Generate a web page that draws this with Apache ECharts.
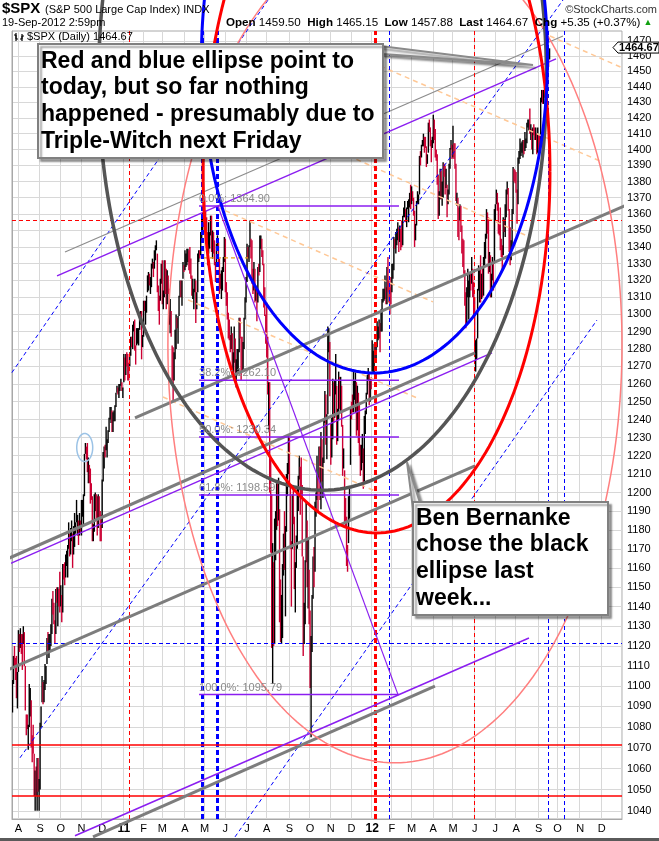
<!DOCTYPE html>
<html>
<head>
<meta charset="utf-8">
<title>$SPX daily</title>
<script src="https://cdn.jsdelivr.net/npm/echarts@6/dist/echarts.min.js"></script>
<style>
  html, body { margin: 0; padding: 0; background: #fff; }
  #chart { width: 659px; height: 841px; }
</style>
</head>
<body>
<div id="chart"></div>
<script>
// market holidays inside the bar range (future days are plain weekdays)
const holidays = ['2010-09-06', '2010-11-25', '2010-12-24', '2011-01-17', '2011-02-21', '2011-04-22',
  '2011-05-30', '2011-07-04', '2011-09-05', '2011-11-24', '2011-12-26', '2012-01-02', '2012-01-16',
  '2012-02-20', '2012-04-06', '2012-05-28', '2012-07-04', '2012-09-03'];

// daily bars from 23 Jul 2010 to 19 Sep 2012, one row per month
const highs = [
  1103,1115,1120,1114,1115,1107,
  1128,1126,1129,1126,1126,1130,1127,1110,1086,1086,1081,1101,1099,1093,1076,1081,1067,1059,1061,1065,1065,1055,
  1082,1090,1105,1102,1103,1111,1110,1124,1127,1126,1126,1131,1144,1148,1142,1133,1149,1150,1150,1149,1158,
  1151,1146,1162,1162,1163,1167,1169,1172,1184,1178,1181,1185,1178,1182,1189,1184,1196,1188,1185,1189,1185,
  1196,1196,1199,1221,1227,1225,1227,1219,1215,1213,1205,1198,1183,1199,1200,1199,1198,1199,1198,1190,1188,
  1207,1222,1225,1226,1236,1229,1234,1241,1247,1247,1245,1244,1245,1248,1255,1259,1258,1260,1260,1263,1261,1258,
  1277,1275,1277,1278,1277,1272,1278,1287,1287,1294,1296,1297,1282,1292,1292,1292,1299,1302,1302,1288,
  1308,1308,1308,1311,1323,1325,1324,1322,1330,1333,1331,1338,1341,1344,1336,1317,1311,1321,1330,
  1332,1314,1332,1332,1327,1326,1323,1315,1309,1302,1282,1281,1278,1291,1300,1298,1299,1311,1320,1320,1320,1331,1329,
  1338,1336,1339,1339,1338,1340,1333,1323,1321,1315,1321,1320,1313,1336,1338,1338,1349,1357,1361,1364,
  1371,1362,1358,1349,1355,1349,1359,1359,1350,1349,1344,1331,1342,1347,1343,1333,1324,1326,1328,1334,1346,
  1345,1319,1313,1301,1297,1288,1293,1289,1278,1293,1286,1274,1280,1280,1298,1298,1287,1287,1284,1298,1310,1322,
  1342,1340,1341,1356,1345,1344,1327,1331,1327,1317,1316,1328,1330,1347,1347,1345,1338,1330,1316,1300,
  1307,1287,1261,1261,1218,1199,1173,1163,1186,1190,1205,1205,1208,1191,1154,1146,1162,1178,1190,1182,1210,1216,1231,
  1230,1204,1174,1199,1204,1187,1163,1177,1203,1209,1220,1214,1219,1204,1166,1142,1164,1195,1185,1175,1159,
  1138,1125,1146,1166,1171,1195,1200,1220,1209,1225,1225,1233,1229,1219,1240,1256,1254,1243,1293,1292,1284,
  1238,1241,1263,1261,1262,1277,1259,1246,1267,1264,1264,1259,1237,1224,1212,1197,1187,1172,1198,1203,1247,
  1250,1254,1268,1262,1267,1261,1259,1255,1249,1226,1226,1232,1224,1242,1245,1255,1265,1269,1266,1263,1264,
  1285,1279,1283,1282,1282,1296,1293,1297,1295,1303,1309,1315,1315,1323,1316,1328,1334,1320,1316,1322,
  1330,1330,1346,1345,1349,1351,1355,1352,1353,1351,1356,1359,1364,1368,1363,1364,1368,1369,1373,1378,
  1377,1374,1370,1362,1354,1368,1374,1372,1396,1399,1403,1406,1410,1408,1408,1402,1397,1417,1419,1414,1406,1408,
  1422,1419,1413,1400,1397,1384,1374,1388,1387,1380,1392,1391,1390,1388,1378,1375,1391,1401,1406,1403,
  1415,1404,1404,1391,1373,1370,1364,1366,1365,1353,1345,1344,1326,1313,1316,1327,1320,1325,1324,1334,1327,1319,
  1310,1285,1286,1315,1329,1326,1335,1324,1327,1334,1343,1348,1363,1361,1358,1337,1335,1324,1334,1331,1363,
  1366,1375,1373,1367,1355,1364,1345,1341,1358,1357,1366,1375,1380,1376,1363,1352,1344,1363,1389,1388,1387,
  1386,1375,1395,1399,1407,1404,1405,1406,1406,1411,1407,1417,1419,1419,1426,1416,1413,1414,1416,1414,1414,1410,1414,
  1409,1409,1433,1438,1438,1438,1440,1463,1475,1466,1462,1465.15
];
const lows = [
  1087,1101,1109,1103,1094,1089,
  1107,1117,1119,1116,1108,1121,1110,1088,1076,1079,1069,1080,1085,1070,1063,1067,1047,1040,1047,1040,1049,1040,
  1050,1080,1092,1091,1092,1098,1101,1111,1116,1114,1118,1120,1126,1136,1131,1121,1126,1142,1130,1140,1137,
  1140,1132,1137,1154,1151,1155,1161,1155,1170,1166,1167,1174,1160,1167,1171,1178,1184,1177,1172,1177,1179,
  1177,1187,1183,1198,1221,1218,1211,1205,1205,1194,1196,1174,1174,1179,1190,1185,1177,1181,1186,1174,1174,
  1181,1206,1213,1219,1223,1219,1227,1233,1240,1238,1233,1233,1239,1239,1247,1255,1254,1252,1256,1259,1256,1252,
  1261,1262,1265,1270,1262,1262,1270,1276,1281,1280,1290,1279,1271,1282,1283,1282,1291,1294,1274,1281,
  1287,1302,1294,1301,1313,1314,1317,1312,1316,1327,1322,1327,1332,1338,1313,1302,1294,1308,1318,
  1306,1303,1310,1312,1303,1306,1312,1294,1289,1287,1262,1250,1262,1274,1280,1292,1283,1299,1310,1310,1305,1321,1325,
  1326,1328,1329,1331,1326,1324,1321,1311,1309,1303,1313,1295,1303,1313,1331,1333,1335,1344,1350,1358,
  1359,1350,1340,1329,1336,1339,1347,1337,1333,1336,1329,1319,1328,1338,1330,1312,1315,1309,1314,1325,1331,
  1313,1305,1297,1286,1285,1278,1280,1268,1266,1272,1262,1258,1267,1267,1278,1286,1262,1267,1267,1280,1297,1307,
  1319,1333,1331,1340,1333,1318,1312,1314,1307,1308,1296,1307,1323,1325,1339,1334,1329,1304,1299,1283,
  1275,1254,1234,1200,1168,1119,1101,1120,1121,1164,1180,1182,1185,1132,1122,1121,1124,1156,1159,1135,1179,1198,1210,
  1203,1170,1140,1170,1183,1149,1137,1160,1170,1190,1207,1188,1197,1166,1115,1121,1131,1163,1150,1139,1131,
  1099,1075,1117,1144,1150,1158,1187,1196,1190,1207,1196,1191,1206,1197,1216,1238,1226,1218,1243,1278,1253,
  1215,1219,1229,1238,1241,1254,1226,1228,1240,1246,1244,1236,1209,1213,1183,1182,1161,1158,1173,1186,1215,
  1240,1244,1244,1251,1244,1231,1234,1227,1220,1209,1212,1216,1202,1206,1232,1243,1254,1262,1248,1250,1257,
  1267,1266,1266,1273,1274,1281,1285,1286,1278,1290,1290,1307,1308,1309,1306,1306,1313,1307,1300,1306,
  1313,1321,1326,1339,1336,1341,1344,1337,1343,1338,1340,1341,1358,1358,1355,1352,1363,1355,1364,1363,
  1366,1368,1359,1340,1344,1353,1366,1366,1372,1390,1395,1402,1402,1398,1401,1389,1391,1398,1411,1402,1392,1401,
  1404,1406,1395,1393,1378,1357,1359,1369,1369,1365,1370,1383,1372,1376,1358,1366,1372,1388,1400,1394,
  1395,1394,1388,1368,1365,1346,1344,1356,1349,1336,1328,1324,1305,1292,1295,1310,1297,1310,1314,1318,1310,1299,
  1277,1267,1274,1286,1314,1307,1307,1309,1310,1311,1329,1333,1345,1348,1324,1325,1310,1310,1320,1314,1330,
  1356,1366,1362,1348,1347,1338,1334,1325,1335,1349,1346,1358,1372,1362,1337,1329,1332,1339,1360,1380,1379,
  1373,1354,1366,1391,1394,1396,1398,1395,1397,1399,1401,1404,1414,1412,1410,1406,1400,1397,1409,1406,1406,1397,1398,
  1397,1398,1404,1430,1429,1429,1433,1435,1460,1457,1453,1457.88
];
const closes = [
  1103,1115,1114,1106,1102,1102,
  1126,1120,1127,1126,1122,1128,1121,1090,1084,1079,1079,1093,1094,1076,1072,1067,1052,1055,1047,1065,1049,1049,
  1080,1090,1105,1092,1099,1104,1110,1122,1121,1125,1125,1126,1143,1140,1134,1125,1149,1142,1148,1145,1141,
  1146,1137,1161,1160,1158,1165,1165,1170,1178,1174,1176,1185,1166,1178,1180,1183,1186,1186,1182,1184,1183,
  1184,1194,1198,1221,1226,1223,1213,1219,1214,1199,1198,1178,1179,1197,1200,1198,1181,1198,1189,1188,1181,
  1206,1222,1225,1223,1224,1228,1233,1240,1241,1242,1235,1243,1244,1247,1255,1259,1257,1258,1258,1260,1258,1258,
  1272,1270,1277,1274,1272,1270,1275,1286,1284,1293,1295,1282,1280,1283,1291,1291,1297,1300,1276,1286,
  1308,1304,1307,1311,1319,1325,1321,1322,1329,1332,1328,1336,1340,1343,1315,1307,1306,1320,1327,
  1306,1308,1331,1321,1310,1322,1320,1295,1304,1296,1282,1257,1274,1279,1298,1294,1298,1310,1314,1310,1319,1328,1326,
  1332,1333,1333,1336,1334,1328,1325,1314,1314,1315,1320,1305,1313,1330,1337,1335,1347,1356,1360,1364,
  1361,1357,1347,1335,1340,1346,1357,1342,1349,1338,1330,1329,1341,1344,1333,1317,1316,1321,1326,1331,1345,
  1315,1313,1300,1286,1285,1280,1289,1271,1272,1288,1265,1268,1272,1278,1296,1287,1284,1269,1280,1297,1307,1321,
  1340,1338,1339,1353,1344,1320,1314,1318,1309,1316,1305,1327,1326,1344,1345,1337,1332,1305,1301,1292,
  1287,1254,1260,1200,1199,1120,1173,1121,1173,1179,1205,1193,1194,1141,1124,1124,1162,1178,1159,1177,1210,1213,1219,
  1204,1174,1165,1199,1186,1154,1162,1173,1189,1209,1216,1204,1202,1167,1130,1136,1163,1175,1151,1160,1131,
  1099,1124,1144,1165,1155,1195,1196,1207,1204,1225,1201,1225,1210,1215,1238,1254,1229,1242,1285,1285,1253,
  1218,1238,1261,1253,1261,1276,1229,1240,1264,1252,1258,1237,1216,1216,1193,1188,1162,1159,1193,1195,1247,
  1245,1244,1257,1259,1261,1234,1255,1237,1226,1212,1216,1220,1205,1241,1244,1254,1265,1265,1250,1263,1258,
  1277,1277,1281,1278,1281,1292,1293,1296,1289,1294,1308,1315,1315,1316,1315,1326,1318,1316,1313,1312,
  1324,1326,1345,1344,1347,1350,1352,1343,1352,1351,1343,1358,1361,1362,1358,1363,1366,1368,1372,1366,
  1374,1370,1364,1343,1353,1366,1371,1371,1396,1394,1403,1404,1410,1406,1403,1393,1397,1417,1413,1406,1403,1408,
  1419,1413,1399,1398,1382,1359,1369,1388,1370,1370,1391,1385,1377,1379,1367,1372,1391,1400,1403,1398,
  1406,1402,1392,1369,1370,1364,1355,1358,1353,1338,1331,1325,1305,1295,1316,1317,1319,1321,1318,1332,1313,1310,
  1278,1278,1285,1315,1315,1326,1309,1324,1315,1329,1343,1345,1358,1356,1326,1335,1314,1320,1332,1329,1362,
  1366,1374,1368,1355,1353,1342,1341,1335,1357,1354,1364,1373,1377,1363,1351,1338,1338,1360,1386,1385,1379,
  1375,1365,1391,1394,1401,1402,1403,1406,1404,1404,1406,1416,1418,1418,1413,1414,1402,1411,1410,1409,1411,1400,1407,
  1405,1403,1432,1438,1429,1434,1437,1460,1466,1461,1459,1464.67
];

const priceTicks = [1040,1050,1060,1070,1080,1090,1100,1110,1120,1130,1140,1150,1160,1170,1180,1190,1200,
  1210,1220,1230,1240,1250,1260,1270,1280,1290,1300,1310,1320,1330,1340,1350,1360,1370,1380,1390,1400,
  1410,1420,1430,1440,1450,1460,1470];
const monthLetters = ['J','F','M','A','M','J','J','A','S','O','N','D'];

// drawn annotations; points are [slot, price], slot = trading day counted from 23 Jul 2010
const grayChannel = [
  [[124.3, 1240.9], [632.7, 1368.0]],
  [[-12.7, 1163.0], [469.3, 1277.7]],
  [[-12.7, 1106.4], [469.3, 1214.4]],
  [[81.7, 1027.9], [428.7, 1100.0]]
];
const purpleChannel = [
  [[45.2, 1322.7], [551.5, 1458.2]],
  [[-12.7, 1159.9], [486.6, 1277.7]],
  [[63.4, 1028.4], [524.1, 1124.0]]
];
const thinGray = [[[53.3, 1337.0], [558.6, 1473.3]]];
const orangeDashed = [
  [[207.5, 1364.3], [426.7, 1307.3]],
  [[332.3, 1398.5], [522.1, 1346.7]],
  [[372.9, 1453.6], [596.2, 1392.8]],
  [[545.4, 1473.3], [656.0, 1441.9]],
  [[178.1, 1308.5], [410.5, 1252.1]],
  [[152.7, 1252.6], [369.9, 1200.3]]
];
const goldDashed = [[[193.3, 1333.4], [239.0, 1333.4]]];
const blueDashed = [
  [[-12.7, 1256.6], [259.3, 1497.3]],
  [[7.6, 1065.1], [558.6, 1497.3]],
  [[225.8, 1027.9], [593.1, 1296.7]]
];

// Fibonacci retracement
const fibLevels = [1364.90, 1262.10, 1230.34, 1198.59, 1095.79];
const fibNames = ['0.0%', '38.2%', '50.0%', '61.8%', '100.0%'];
const fibSpan = [189.3, 392.2];
const fibDiagonal = [[208.4, 1364.90], [391.2, 1095.79]];

// ellipses: [centre slot, centre price, slot of right edge, price of bottom edge]
const blackEllipse = [314.6, 1445.1, 541.9, 1201.2];
const redEllipse = [369.4, 1386.0, 545.4, 1178.4];
const blueEllipse = [367.3, 1458.8, 542.9, 1266.2];
const pinkEllipse = [388.1, 1282.3, 618.5, 1062.7];
const smallEllipse = [73.3, 1224.5, 81.4, 1216.8];

// vertical and horizontal markers
const redThinDays = ['2011-01-10', '2012-06-01'];
const redThickDays = ['2012-01-06'];
const blueThickDays = ['2011-04-28', '2011-05-19'];
const blueThinDays = ['2012-01-27', '2012-09-18', '2012-10-10'];
const redLevels = [1071.6, 1046.9];
const redDashLevels = [1355.9];
const blueDashLevels = [1121.3];

const lastPrice = 1464.67;

// ---------------------------------------------------------------------------
const dates = [];
for (let t = Date.UTC(2010, 6, 23); t <= Date.UTC(2012, 11, 31); t += 86400000) {
  const d = new Date(t);
  const wd = d.getUTCDay();
  const s = d.toISOString().slice(0, 10);
  if (wd === 0 || wd === 6 || holidays.indexOf(s) >= 0) continue;
  dates.push(s);
}
const monthStart = dates.map((d, i) => i > 0 && d.slice(5, 7) !== dates[i - 1].slice(5, 7));

const bars = closes.map((c, i) => [i, Math.log(highs[i]), Math.log(lows[i]), (i === 0 || c >= closes[i - 1]) ? 1 : 0]);

const L = Math.log;
const FONT = '"Liberation Sans", Arial, sans-serif';

function lines(pairs, style, z) {
  return pairs.map(pr => ({
    type: 'line', xAxisIndex: 1, yAxisIndex: 0,
    data: pr.map(p => [p[0], L(p[1])]),
    symbol: 'none', clip: false, silent: true, z: z,
    lineStyle: style
  }));
}

function ellipse(e, color, width, z) {
  return {
    type: 'custom', xAxisIndex: 1, yAxisIndex: 0, silent: true, z: z,
    data: [[e[0], L(e[1]), e[2], L(e[3])]],
    renderItem: function (params, api) {
      const c = api.coord([api.value(0), api.value(1)]);
      const r = api.coord([api.value(2), api.value(1)]);
      const b = api.coord([api.value(0), api.value(3)]);
      const rx = r[0] - c[0], ry = b[1] - c[1];
      const pts = [];
      for (let k = 0; k <= 240; k++) {
        const a = k / 240 * Math.PI * 2;
        pts.push([c[0] + rx * Math.cos(a), c[1] + ry * Math.sin(a)]);
      }
      return { type: 'polyline', shape: { points: pts }, style: { stroke: color, lineWidth: width, fill: null } };
    }
  };
}

const vMarks = []
  .concat(redThinDays.map(d => ({ xAxis: d, lineStyle: { color: '#ff0000', width: 1, type: [4, 3] } })))
  .concat(redThickDays.map(d => ({ xAxis: d, lineStyle: { color: '#ff0000', width: 3, type: [5, 3] } })))
  .concat(blueThickDays.map(d => ({ xAxis: d, lineStyle: { color: '#0000ff', width: 3, type: [5, 3] } })))
  .concat(blueThinDays.map(d => ({ xAxis: d, lineStyle: { color: '#0000ff', width: 1, type: [4, 3] } })))
  .concat(redLevels.map(v => ({ yAxis: L(v), lineStyle: { color: '#ff0000', width: 1.5, type: 'solid' } })))
  .concat(redDashLevels.map(v => ({ yAxis: L(v), lineStyle: { color: '#ff0000', width: 1.2, type: [4, 3] } })))
  .concat(blueDashLevels.map(v => ({ yAxis: L(v), lineStyle: { color: '#0000ff', width: 1.2, type: [4, 3] } })));

const series = [
  {
    type: 'custom', xAxisIndex: 0, yAxisIndex: 0, silent: true, z: 2, clip: true,
    data: bars,
    encode: { x: 0, y: [1, 2] },
    renderItem: function (params, api) {
      const h = api.coord([api.value(0), api.value(1)]);
      const l = api.coord([api.value(0), api.value(2)]);
      return {
        type: 'line',
        shape: { x1: h[0], y1: h[1], x2: l[0], y2: l[1] },
        style: { stroke: api.value(3) ? '#000000' : '#cc0033', lineWidth: 1.4 }
      };
    }
  },
  {
    type: 'line', xAxisIndex: 0, yAxisIndex: 0, data: [[0, L(1200)]], symbol: 'none',
    lineStyle: { opacity: 0 }, silent: true, z: 3,
    markLine: { symbol: ['none', 'none'], precision: 8, silent: true, animation: false, label: { show: false }, data: vMarks }
  }
]
  .concat(lines(orangeDashed, { color: '#ffc896', width: 1.5, type: [5, 4] }, 4))
  .concat(lines(goldDashed, { color: '#e8a020', width: 1.2, type: [4, 3] }, 4))
  .concat(lines(blueDashed, { color: '#0000ff', width: 1, type: [4, 3] }, 4))
  .concat(lines(thinGray, { color: '#8c8c8c', width: 1.2 }, 4))
  .concat(lines(grayChannel, { color: '#7d7d7d', width: 3 }, 5))
  .concat(lines(purpleChannel, { color: '#8b1ef0', width: 1.5 }, 5))
  .concat(lines(fibLevels.map(v => [[fibSpan[0], v], [fibSpan[1], v]]), { color: '#8b1ef0', width: 1.5 }, 5))
  .concat(lines([fibDiagonal], { color: '#8b1ef0', width: 1.2 }, 5))
  .concat([
    ellipse(pinkEllipse, '#ff7f7f', 1.5, 6),
    ellipse(smallEllipse, '#9cc3e6', 1.5, 6),
    ellipse(blackEllipse, '#555555', 3.5, 7),
    ellipse(redEllipse, '#ff0000', 3, 7),
    ellipse(blueEllipse, '#0000ff', 3, 7)
  ]);

const chart = echarts.init(document.getElementById('chart'), null, { renderer: 'canvas' });

chart.setOption({
  animation: false,
  backgroundColor: '#ffffff',
  textStyle: { fontFamily: FONT },
  grid: { left: 12, right: 37, top: 31, bottom: 22, show: true, borderColor: '#a8a8a8', borderWidth: 1, backgroundColor: '#ffffff' },
  xAxis: [
    {
      type: 'category', data: dates, boundaryGap: true,
      axisLine: { show: true, lineStyle: { color: '#a8a8a8' } },
      axisTick: { show: false },
      axisLabel: {
        interval: (i) => monthStart[i],
        formatter: (v) => {
          const m = +v.slice(5, 7);
          return m === 1 ? '{y|' + v.slice(2, 4) + '}' : monthLetters[m - 1];
        },
        color: '#000', fontSize: 11, margin: 4,
        rich: { y: { fontWeight: 'bold', fontSize: 12, color: '#000' } }
      },
      splitLine: { show: true, interval: (i) => monthStart[i], lineStyle: { color: '#d8d8d8', width: 1 } }
    },
    { type: 'value', min: -0.5, max: dates.length - 0.5, show: false }
  ],
  yAxis: {
    type: 'value', position: 'right',
    min: L(1036.2), max: L(1476.6),
    axisLine: { show: true, lineStyle: { color: '#a8a8a8' } },
    axisTick: { show: false, customValues: priceTicks.map(L) },
    axisLabel: {
      customValues: priceTicks.map(L),
      formatter: (v) => String(Math.round(Math.exp(v))),
      color: '#000', fontSize: 11, margin: 5
    },
    splitLine: { show: true, lineStyle: { color: '#d8d8d8', width: 1 } }
  },
  series: series
});

// text, boxes and tags placed after the axes exist
const toPx = (slot, price) => chart.convertToPixel({ xAxisIndex: 1, yAxisIndex: 0 }, [slot, L(price)]);
const graphics = [];

graphics.push(
  { id: 't1', type: 'text', x: 2, y: 9, z: 50, style: { text: '$SPX', font: 'bold 15px ' + FONT, fill: '#000', textVerticalAlign: 'middle' } },
  { id: 't2', type: 'text', x: 45, y: 10, z: 50, style: { text: '(S&P 500 Large Cap Index) INDX', font: '11px ' + FONT, fill: '#000', textVerticalAlign: 'middle' } },
  { id: 't3', type: 'text', x: 657, y: 10, z: 50, style: { text: '©StockCharts.com', font: '11px ' + FONT, fill: '#333', textAlign: 'right', textVerticalAlign: 'middle' } },
  { id: 't4', type: 'text', x: 2, y: 23, z: 50, style: { text: '19-Sep-2012 2:59pm', font: '11px ' + FONT, fill: '#000', textVerticalAlign: 'middle' } },
  {
    id: 't5', type: 'text', x: 226, y: 23, z: 50,
    style: {
      text: '{b|Open} 1459.50  {b|High} 1465.15  {b|Low} 1457.88  {b|Last} 1464.67  {b|Chg} +5.35 (+0.37%) {g|▲}',
      font: '11.6px ' + FONT, fill: '#000', textVerticalAlign: 'middle',
      rich: { b: { fontWeight: 'bold', fontSize: 11.6, fontFamily: 'Liberation Sans' }, g: { fill: '#10a010', fontSize: 9 } }
    }
  },
  { id: 't6', type: 'text', x: 27, y: 37, z: 50, style: { text: '$SPX (Daily) 1464.67', font: '11px ' + FONT, fill: '#000', textVerticalAlign: 'middle' } },
  { id: 'i1', type: 'polyline', z: 50, shape: { points: [[16, 33], [16, 41]] }, style: { stroke: '#000', lineWidth: 1.2 } },
  { id: 'i2', type: 'polyline', z: 50, shape: { points: [[14, 35], [16, 35], [16, 39], [18, 39]] }, style: { stroke: '#000', lineWidth: 1, fill: null } },
  { id: 'i3', type: 'polyline', z: 50, shape: { points: [[22, 34], [22, 41]] }, style: { stroke: '#000', lineWidth: 1.2 } },
  { id: 'i4', type: 'polyline', z: 50, shape: { points: [[20, 39], [22, 39], [22, 36], [24, 36]] }, style: { stroke: '#000', lineWidth: 1, fill: null } }
);

fibLevels.forEach((v, k) => {
  const p = toPx(fibSpan[0], v);
  graphics.push({
    id: 'fib' + k, type: 'text', x: p[0], y: p[1] - 7, z: 40,
    style: { text: fibNames[k] + ': ' + v.toFixed(2), font: '11px ' + FONT, fill: '#8a8a8a', textVerticalAlign: 'middle' }
  });
});

const shadow = { shadowBlur: 2, shadowOffsetX: 3, shadowOffsetY: 3, shadowColor: 'rgba(0,0,0,0.35)' };
graphics.push(
  { id: 'c1p', type: 'polygon', z: 60, shape: { points: [[372, 45], [533, 65], [383, 54]] }, style: Object.assign({ fill: '#f4f4f4', stroke: '#8a8a8a', lineWidth: 2 }, shadow) },
  { id: 'c1r', type: 'rect', z: 61, shape: { x: 38, y: 44, width: 345, height: 114 }, style: Object.assign({ fill: '#ffffff', stroke: '#808080', lineWidth: 2 }, shadow) },
  {
    id: 'c1t', type: 'text', x: 41, y: 48, z: 62,
    style: {
      text: 'Red and blue ellipse point to\ntoday, but so far nothing\nhappened - presumably due to\nTriple-Witch next Friday',
      font: 'bold 23px ' + FONT, fill: '#000', lineHeight: 26.7
    }
  },
  { id: 'c2p', type: 'polygon', z: 60, shape: { points: [[407, 462], [420, 503], [413, 509]] }, style: Object.assign({ fill: '#f4f4f4', stroke: '#8a8a8a', lineWidth: 2 }, shadow) },
  { id: 'c2r', type: 'rect', z: 61, shape: { x: 413, y: 502, width: 195, height: 113 }, style: Object.assign({ fill: '#ffffff', stroke: '#808080', lineWidth: 2 }, shadow) },
  {
    id: 'c2t', type: 'text', x: 416, y: 505, z: 62,
    style: {
      text: 'Ben Bernanke\nchose the black\nellipse last\nweek...',
      font: 'bold 23px ' + FONT, fill: '#000', lineHeight: 26.7
    }
  }
);

const tagY = toPx(0, lastPrice)[1] - 1.5;
graphics.push(
  { id: 'tagb', type: 'polygon', z: 70, shape: { points: [[613, tagY], [618, tagY - 5.5], [659, tagY - 5.5], [659, tagY + 5.5], [618, tagY + 5.5]] }, style: { fill: '#ffffff', stroke: '#000', lineWidth: 1 } },
  { id: 'tagt', type: 'text', x: 619, y: tagY + 0.5, z: 71, style: { text: lastPrice.toFixed(2), font: 'bold 11px ' + FONT, fill: '#000', textVerticalAlign: 'middle' } },
  { id: 'foot', type: 'rect', z: 70, shape: { x: 0, y: 838, width: 659, height: 3 }, style: { fill: '#5a5a5a' } }
);

chart.setOption({ graphic: graphics });
</script>
</body>
</html>
